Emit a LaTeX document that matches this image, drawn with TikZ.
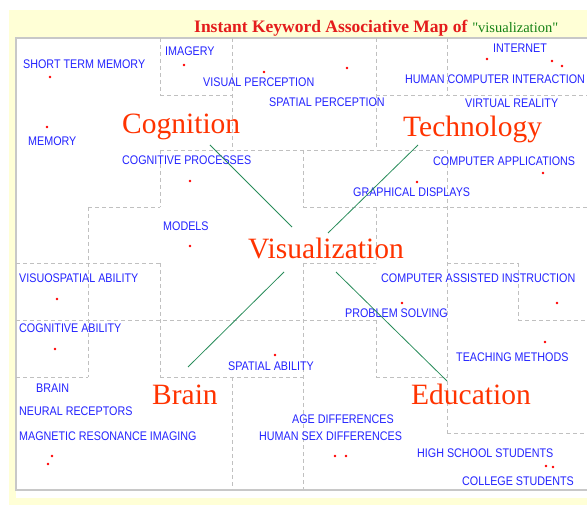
\documentclass[tikz,border=0pt]{standalone}
\usepackage{fontspec}
\setmainfont{Liberation Serif}
\newfontfamily\keyfont{Liberation Sans}[FakeStretch=0.86]
\newfontfamily\queryfont{Liberation Serif}[Ligatures=TeXOff]
\usepackage{xcolor}
\usepackage{tikz}
\usetikzlibrary{calc}
\usetikzlibrary{positioning}

\definecolor{paper}{RGB}{255,255,214}
\definecolor{framegray}{RGB}{200,200,200}
\definecolor{cellgray}{RGB}{192,192,192}
\definecolor{keyblue}{RGB}{36,36,255}
\definecolor{topicred}{RGB}{255,51,0}
\definecolor{titlered}{RGB}{228,28,28}
\definecolor{titlegreen}{RGB}{20,130,20}
\definecolor{linkgreen}{RGB}{40,140,90}

\begin{document}
\begin{tikzpicture}[x=1pt,y=-1pt,
  key/.style={anchor=west, inner sep=0pt, text=keyblue, font=\keyfont\fontsize{12.5}{12.5}\selectfont},
  topic/.style={anchor=base west, inner sep=0pt, text=topicred, font=\fontsize{29.5}{29.5}\selectfont},
  cell/.style={draw=cellgray, dash pattern=on 4pt off 3pt, line width=0.9pt},
  link/.style={draw=linkgreen, line width=0.8pt},
  spot/.style={fill=red}]
 \useasboundingbox (0,0) rectangle (587,505);
 \fill[white] (0,0) rectangle (587,505);
 \fill[paper] (9,10) rectangle (587,505);
 \fill[white] (16,38) rectangle (587,498);
 \draw[framegray, line width=1.5pt] (16,38) rectangle (600,490);

 % title
 \node[anchor=base west, inner sep=0pt, text=titlered, font=\bfseries\fontsize{17.5}{17.5}\selectfont]
   (title) at (194,33) {Instant Keyword Associative Map of};
 \node[anchor=base west, inner sep=0pt, text=titlegreen, font=\queryfont\fontsize{14.5}{14.5}\selectfont]
   (query) at ([xshift=4.5pt]title.base east) {"visualization"};

 % cells
 \draw[cell] (160,38) -- (160,95) (160,150) -- (160,207) (160,263) -- (160,377)
             (88,207) -- (88,377)
             (232,38) -- (232,150) (232,377) -- (232,489)
             (303,150) -- (303,207) (303,263) -- (303,489)
             (376,38) -- (376,150) (376,207) -- (376,263) (376,320) -- (376,377)
             (447,38) -- (447,95) (447,150) -- (447,433)
             (518,263) -- (518,320);
 \draw[cell] (160,95) -- (232,95) (376,95) -- (587,95)
             (160,150) -- (447,150)
             (88,207) -- (160,207) (303,207) -- (587,207)
             (16,263) -- (160,263) (303,263) -- (376,263) (447,263) -- (518,263)
             (16,320) -- (376,320) (518,320) -- (587,320)
             (16,377) -- (88,377) (160,377) -- (303,377) (376,377) -- (447,377)
             (447,433) -- (587,433);

 % keywords
 \node[key] (stm)   at (23,64)   {SHORT TERM MEMORY};
 \node[key] (mem)   at (28,141)  {MEMORY};
 \node[key] (img)   at (165,51.5) {IMAGERY};
 \node[key] (visp)  at (203,82)  {VISUAL PERCEPTION};
 \node[key] (spp)   at (269,102) {SPATIAL PERCEPTION};
 \node[key] (net)   at (493,48)  {INTERNET};
 \node[key] (hci)   at (405,79)  {HUMAN COMPUTER INTERACTION};
 \node[key] (vr)    at (465,103) {VIRTUAL REALITY};
 \node[key] (cogp)  at (122,160) {COGNITIVE PROCESSES};
 \node[key] (capp)  at (433,161) {COMPUTER APPLICATIONS};
 \node[key] (gd)    at (353,192) {GRAPHICAL DISPLAYS};
 \node[key] (mod)   at (163,226) {MODELS};
 \node[key] (vsa)   at (19,278)  {VISUOSPATIAL ABILITY};
 \node[key] (cai)   at (381,278) {COMPUTER ASSISTED INSTRUCTION};
 \node[key] (ps)    at (345,313) {PROBLEM SOLVING};
 \node[key] (coga)  at (19,328)  {COGNITIVE ABILITY};
 \node[key] (spa)   at (228,366) {SPATIAL ABILITY};
 \node[key] (tm)    at (456,357) {TEACHING METHODS};
 \node[key] (brn)   at (36,388.5) {BRAIN};
 \node[key] (nr)    at (19,411)  {NEURAL RECEPTORS};
 \node[key] (mri)   at (19,436)  {MAGNETIC RESONANCE IMAGING};
 \node[key] (age)   at (292,419) {AGE DIFFERENCES};
 \node[key] (sex)   at (259,436) {HUMAN SEX DIFFERENCES};
 \node[key] (hss)   at (417,453) {HIGH SCHOOL STUDENTS};
 \node[key] (cs)    at (462,481) {COLLEGE STUDENTS};

 % spots
 \fill[spot] (50,77) circle (1.3) (47,127) circle (1.3) (184,65) circle (1.3)
             (264,72) circle (1.3) (347,68) circle (1.3)
             (487,59) circle (1.3) (552,61) circle (1.3) (562,66) circle (1.3)
             (190,181) circle (1.3) (190,246) circle (1.3)
             (417,182) circle (1.3) (543,173) circle (1.3)
             (57,299) circle (1.3) (55,349) circle (1.3)
             (402,303) circle (1.3) (557,303) circle (1.3)
             (275,355) circle (1.3) (545,342) circle (1.3)
             (52,456) circle (1.3) (48,464) circle (1.3)
             (335,456) circle (1.3) (346,456) circle (1.3)
             (546,466) circle (1.3) (553,467) circle (1.3);

 % topics
 \node[topic] (vis)  at (248,259) {Visualization};
 \node[topic] (cog)  at (122,134) {Cognition};
 \node[topic] (tech) at (403,137) {Technology};
 \node[topic] (brain) at (152,404) {Brain};
 \node[topic] (edu)  at (411,405) {Education};

 % links
 \coordinate (cog-a)   at (210,145);
 \coordinate (cog-b)   at (292,227);
 \coordinate (tech-a)  at (418,145);
 \coordinate (tech-b)  at (328,233);
 \coordinate (brain-a) at (188,367);
 \coordinate (brain-b) at (284,272);
 \coordinate (edu-a)   at (447,381);
 \coordinate (edu-b)   at (336,272);
 \path[link]
   (cog-a) edge (cog-b)
   (tech-a) edge (tech-b)
   (brain-a) edge (brain-b)
   (edu-a) edge (edu-b);
\end{tikzpicture}
\end{document}
